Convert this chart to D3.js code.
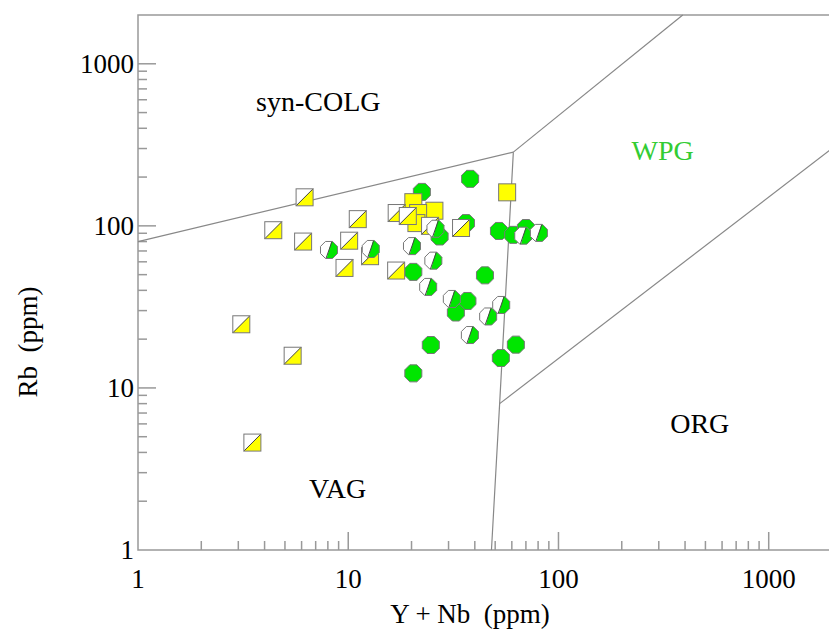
<!DOCTYPE html>
<html>
<head>
<meta charset="utf-8">
<script src="https://cdn.jsdelivr.net/npm/d3@7"></script>
<style>
  body { margin: 0; background: #fff; }
  text { font-family: "Liberation Serif", "Times New Roman", serif; }
</style>
</head>
<body>
<div id="plotviz"></div>
<script>
// half white / half yellow squares [Y+Nb, Rb]
const halfSquares = [
  [6.2, 150], [4.4, 94], [6.1, 80], [11.1, 110], [10.1, 81], [12.7, 65],
  [9.6, 55], [17, 120], [19.2, 115], [16.9, 53], [24.5, 100], [34.4, 97],
  [3.1, 24.7], [5.44, 15.8], [3.5, 4.6]
];
// full yellow squares
const yellowSquares = [
  [57, 161], [20.4, 140], [25.7, 124], [21.5, 120], [21.1, 104]
];
// full green octagons
const greenDots = [
  [38, 195], [22.4, 162], [36.3, 104], [27.2, 86], [20.4, 52], [44.7, 49.5],
  [36.9, 34.4], [32.5, 29.2], [24.7, 18.4], [62.7, 18.5], [53.2, 15.3],
  [20.4, 12.3], [52.1, 93], [60.9, 88], [70, 97]
];
// half white / half green octagons
const halfDots = [
  [8.1, 71], [12.8, 72], [26, 96], [20.1, 75], [25.4, 61], [24, 42],
  [31.1, 35.4], [46.3, 27.6], [53.4, 32.5], [37.9, 21.2], [68, 87], [80.7, 90.5]
];

// field boundaries (Pearce et al. 1984)
const boundaries = [
  [[1, 80], [61, 285]],
  [[61, 285], [390, 2000]],
  [[61, 285], [52.5, 8], [48, 1]],
  [[52.5, 8], [2000, 300]]
];
const fields = [
  { name: "syn-COLG", x: 7.2, y: 590, color: "#000" },
  { name: "WPG", x: 313, y: 295, color: "#33cc33" },
  { name: "ORG", x: 470, y: 6.1, color: "#000" },
  { name: "VAG", x: 8.9, y: 2.4, color: "#000" }
];
const xTicks = [1, 10, 100, 1000];
const yTicks = [1, 10, 100, 1000];

const W = 829, H = 629;
const x = d3.scaleLog().domain([1, 2000]).range([138, 832]);
const y = d3.scaleLog().domain([1, 2000]).range([550, 15]);

const svg = d3.select("#plotviz").append("svg")
  .attr("width", W).attr("height", H);

const defs = svg.append("defs");
defs.append("clipPath").attr("id", "rightHalf")
  .attr("clipPathUnits", "userSpaceOnUse")
  .append("polygon").attr("points", "3,-11 12,-11 12,11 -3,11");

// frame
svg.append("rect")
  .attr("x", x(1)).attr("y", y(2000))
  .attr("width", x(2000) - x(1)).attr("height", y(1) - y(2000))
  .attr("fill", "none").attr("stroke", "#999").attr("stroke-width", 1.5);

// minor / major ticks pointing inward
const minors = [];
for (let k = 0; k < 4; k++) for (let m = 1; m < 10; m++) {
  const v = m * Math.pow(10, k);
  if (v <= 2000) minors.push(v);
}
const tickG = svg.append("g").attr("stroke", "#999").attr("stroke-width", 1.5);
minors.forEach(v => {
  const len = (m => Math.abs(Math.log10(m) % 1) < 1e-9)(v) ? 18 : 9;
  if (v > 1 && v < 2000) {
    tickG.append("line").attr("x1", x(v)).attr("x2", x(v))
      .attr("y1", y(1)).attr("y2", y(1) - len);
    tickG.append("line").attr("y1", y(v)).attr("y2", y(v))
      .attr("x1", x(1)).attr("x2", x(1) + len);
  }
});

// tick labels
svg.selectAll(".xl").data(xTicks).join("text")
  .attr("x", d => x(d)).attr("y", 588)
  .attr("text-anchor", "middle").attr("font-size", 27)
  .text(d => d);
svg.selectAll(".yl").data(yTicks).join("text")
  .attr("x", 134).attr("y", d => y(d) + 9)
  .attr("text-anchor", "end").attr("font-size", 27)
  .text(d => d);

// axis titles
svg.append("text")
  .attr("x", 470).attr("y", 623)
  .attr("text-anchor", "middle").attr("font-size", 27)
  .style("white-space", "pre")
  .text("Y + Nb  (ppm)");
svg.append("text")
  .attr("transform", "translate(37,342) rotate(-90)")
  .attr("text-anchor", "middle").attr("font-size", 27)
  .style("white-space", "pre")
  .text("Rb  (ppm)");

// boundaries
const line = d3.line().x(d => x(d[0])).y(d => y(d[1]));
svg.selectAll(".bnd").data(boundaries).join("path")
  .attr("d", line)
  .attr("fill", "none").attr("stroke", "#888").attr("stroke-width", 1.2);

// field labels
svg.selectAll(".fld").data(fields).join("text")
  .attr("x", d => x(d.x)).attr("y", d => y(d.y) + 10)
  .attr("text-anchor", "middle").attr("font-size", 28)
  .attr("fill", d => d.color)
  .text(d => d.name);

// markers
const green = "#00e600", yellow = "#ffff00", edge = "#777";
const R = 9.2;
const oct = d3.range(8).map(i => {
  const a = (22.5 + 45 * i) * Math.PI / 180;
  return [R * Math.cos(a), R * Math.sin(a)];
});
const octPath = "M" + oct.map(p => p.join(",")).join("L") + "Z";
const s = 8.5;

svg.append("g").selectAll("path").data(greenDots).join("path")
  .attr("transform", d => `translate(${x(d[0])},${y(d[1])})`)
  .attr("d", octPath)
  .attr("fill", green).attr("stroke", edge).attr("stroke-width", 1);

svg.append("g").selectAll("rect").data(yellowSquares).join("rect")
  .attr("x", d => x(d[0]) - s).attr("y", d => y(d[1]) - s)
  .attr("width", 2 * s).attr("height", 2 * s)
  .attr("fill", yellow).attr("stroke", edge).attr("stroke-width", 1);

const hs = svg.append("g").selectAll("g").data(halfSquares).join("g")
  .attr("transform", d => `translate(${x(d[0])},${y(d[1])})`);
hs.append("rect").attr("x", -s).attr("y", -s)
  .attr("width", 2 * s).attr("height", 2 * s).attr("fill", "#fff");
hs.append("path").attr("d", `M${-s},${s}L${s},${-s}L${s},${s}Z`)
  .attr("fill", yellow);
hs.append("line").attr("x1", -s).attr("y1", s).attr("x2", s).attr("y2", -s)
  .attr("stroke", "#444").attr("stroke-width", 1);
hs.append("rect").attr("x", -s).attr("y", -s)
  .attr("width", 2 * s).attr("height", 2 * s)
  .attr("fill", "none").attr("stroke", edge).attr("stroke-width", 1);

const hd = svg.append("g").selectAll("g").data(halfDots).join("g")
  .attr("transform", d => `translate(${x(d[0])},${y(d[1])})`);
hd.append("path").attr("d", octPath).attr("fill", "#fff");
hd.append("path").attr("d", octPath).attr("fill", green)
  .attr("clip-path", "url(#rightHalf)");
hd.append("line").attr("x1", 3).attr("y1", -8.5).attr("x2", -3).attr("y2", 8.5)
  .attr("stroke", "#444").attr("stroke-width", 1);
hd.append("path").attr("d", octPath)
  .attr("fill", "none").attr("stroke", edge).attr("stroke-width", 1);
</script>
</body>
</html>
